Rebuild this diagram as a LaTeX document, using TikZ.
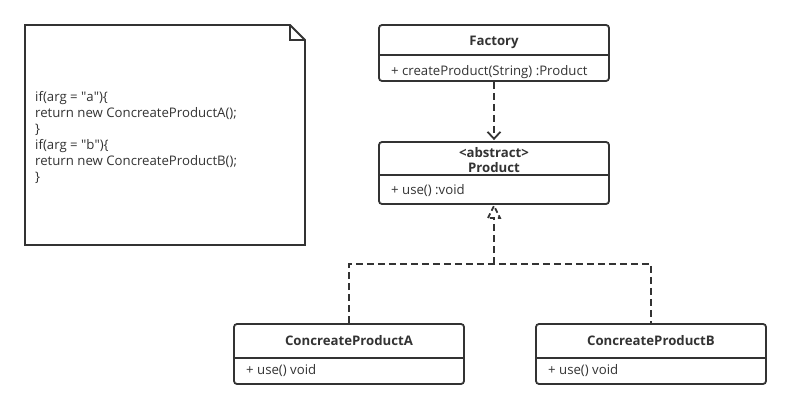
\documentclass[tikz,border=0pt]{standalone}
\usepackage{fontspec}
\setmainfont{Open Sans}
\usetikzlibrary{arrows.meta,calc}
\definecolor{ink}{HTML}{333333}
\tikzset{
  umlbox/.style={draw=ink, line width=1.8pt, rounded corners=3pt, minimum width=230pt, inner sep=0pt, fill=white},
  divider/.style={draw=ink, line width=1.8pt},
  ttl/.style={font=\fontsize{13.2}{15}\selectfont\bfseries, text=ink, align=center, inner sep=0pt},
  attr/.style={font=\fontsize{13.2}{15}\selectfont, text=ink, anchor=west, inner sep=0pt},
  dsh/.style={draw=ink, line width=1.8pt, dash pattern=on 7pt off 4pt},
}
\begin{document}
\begin{tikzpicture}[x=1pt,y=-1pt]
\useasboundingbox (0,0) rectangle (790,409);
% note
\draw[draw=ink, line width=1.8pt, line join=miter] (25,25) -- (290,25) -- (305,40) -- (305,245) -- (25,245) -- cycle;
\draw[draw=ink, line width=1.8pt] (290,25) -- (290,40) -- (305,40);
\node[anchor=north west, inner sep=0pt, text=ink, align=left, font=\fontsize{13.2}{16}\selectfont] (notetext) at (35,91)
{if(arg = \textquotedbl a\textquotedbl)\{\\return new ConcreateProductA();\\\}\\if(arg = \textquotedbl b\textquotedbl)\{\\return new ConcreateProductB();\\\}};
% Factory
\node[umlbox, minimum height=56pt] (fac) at (494,53) {};
\draw[divider] ($(fac.west)+(0,2)$) -- ($(fac.east)+(0,2)$);
\node[ttl] (factt) at (494,42) {Factory};
\node[attr] (faca) at (391,72) {+ createProduct(String) :Product};
% Product
\node[umlbox, minimum height=62pt] (prod) at (494,173) {};
\draw[divider] ($(prod.west)+(0,2)$) -- ($(prod.east)+(0,2)$);
\node[ttl] (prodt) at (494,160) {<abstract>\\Product};
\node[attr] (proda) at (391,191) {+ use() :void};
% Concrete A
\node[umlbox, minimum height=60pt] (ca) at (349,354) {};
\draw[divider] ($(ca.west)+(0,4)$) -- ($(ca.east)+(0,4)$);
\node[ttl] (cat) at (349,341) {ConcreateProductA};
\node[attr] (caa) at (246,371) {+ use() void};
% Concrete B
\node[umlbox, minimum height=60pt] (cb) at (651,354) {};
\draw[divider] ($(cb.west)+(0,4)$) -- ($(cb.east)+(0,4)$);
\node[ttl] (cbt) at (651,341) {ConcreateProductB};
\node[attr] (cba) at (548,371) {+ use() void};
% dependency
\draw[dsh, -{Straight Barb[length=7pt,width=13pt,line width=1.8pt]}] (fac.south) -- ($(prod.north)+(0,-1)$);
% realization
\coordinate (j) at (494,264);
\coordinate (tb) at ($(prod.south)+(0,13)$);
\draw[dsh] (ca.north) |- (j) -| (cb.north);
\draw[dsh] (j) -- (tb);
\draw[draw=ink, line width=1.8pt, dash pattern=on 5pt off 3pt] ($(tb)+(-6,0)$) -- ($(prod.south)+(0,1)$) -- ($(tb)+(6,0)$) -- cycle;
\end{tikzpicture}
\end{document}
